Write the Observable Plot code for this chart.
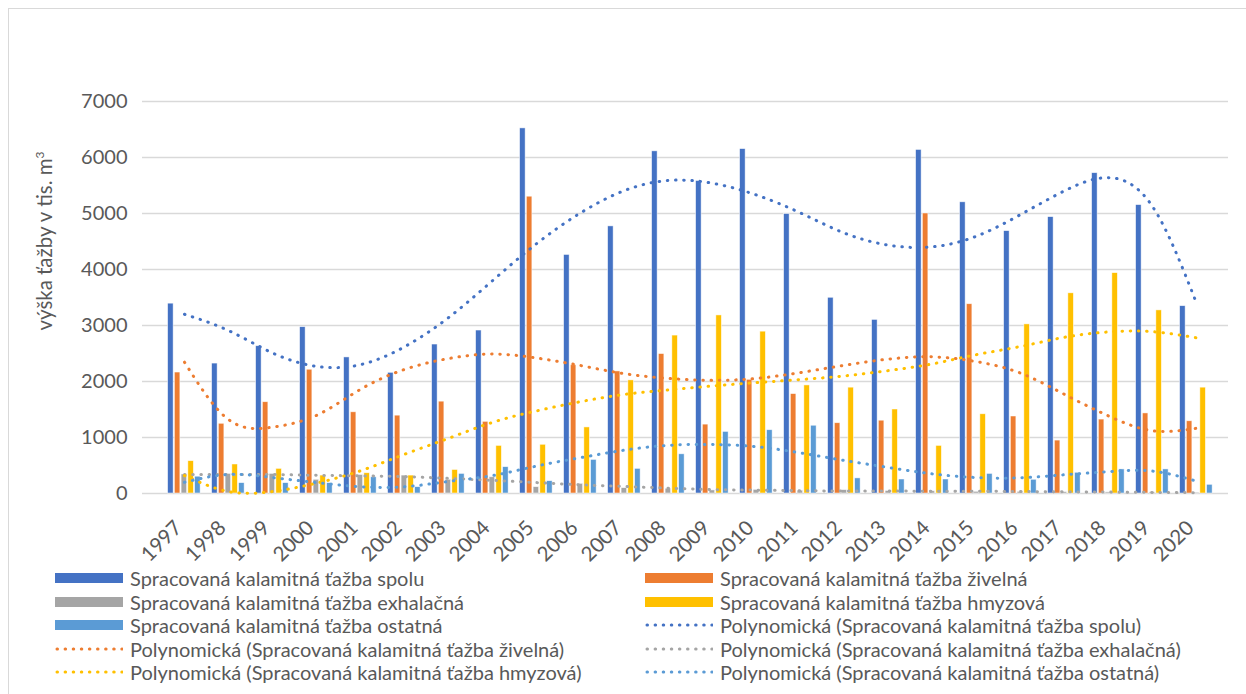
<!DOCTYPE html>
<html><head><meta charset="utf-8">
<script src="https://cdn.jsdelivr.net/npm/d3@7"></script>
<script src="https://cdn.jsdelivr.net/npm/@observablehq/plot@0.6"></script>
<style>
body{margin:0;background:#fff;}
#wrap{position:relative;width:1246px;height:694px;overflow:hidden;font-family:Lato,"Open Sans",sans-serif;color:#595959;}
#frame{position:absolute;left:8px;top:8px;right:-10px;bottom:-10px;border-left:1.5px solid #d9d9d9;border-top:1.5px solid #d9d9d9;}
#chart{position:absolute;left:0;top:0;}
#ylab{position:absolute;left:44px;top:241px;transform:translate(-50%,-50%) rotate(-90deg);white-space:nowrap;font-size:20.5px;}
#ylab sup{font-size:12px;}
.leg{position:absolute;display:flex;align-items:center;font-size:20px;white-space:nowrap;height:24px;}
.sw{width:68px;height:10px;margin-right:7px;}
</style></head><body><div id="wrap"><div id="frame"></div><div id="chart"></div><div id="ylab">výška ťažby v tis. m<sup>3</sup></div></div>
<script>
const years = ["1997","1998","1999","2000","2001","2002","2003","2004","2005","2006","2007","2008","2009","2010","2011","2012","2013","2014","2015","2016","2017","2018","2019","2020"];
const spolu     = [3390,2320,2630,2970,2430,2155,2660,2910,6520,4260,4770,6110,5580,6150,4990,3495,3100,6135,5200,4685,4935,5720,5150,3345];
const zivelna   = [2160,1245,1630,2210,1450,1390,1640,1280,5300,2290,2180,2490,1230,2030,1775,1255,1300,5000,3380,1375,945,1320,1430,1290];
const exhalacna = [340,350,350,245,330,320,245,290,113,173,95,85,55,65,50,60,45,40,30,30,25,20,20,15];
const hmyzova   = [577,518,440,320,362,320,420,850,870,1180,2020,2820,3180,2890,1930,1890,1500,850,1415,3020,3575,3935,3270,1890];
const ostatna   = [300,185,185,185,290,113,350,470,220,600,440,700,1100,1130,1210,270,250,250,350,245,370,430,430,155];

const trendSpolu     = [3200,2910,2510,2270,2300,2620,3140,3800,4460,5010,5410,5590,5540,5330,5010,4650,4435,4405,4595,4980,5405,5640,5125,3400];
const trendZivelna   = [2345,1320,1185,1395,1860,2215,2410,2490,2420,2285,2140,2055,2020,2055,2160,2290,2400,2440,2355,2150,1770,1385,1120,1165];
const trendExhalacna = [340,340,338,325,315,300,270,235,195,155,125,95,70,60,50,45,45,40,40,35,30,25,20,15];
const trendHmyzova   = [320,35,35,185,405,700,985,1270,1475,1640,1770,1850,1920,1980,2035,2100,2195,2315,2480,2625,2790,2885,2890,2780];
const trendOstatna   = [200,340,285,195,120,120,215,320,490,640,775,860,875,835,725,590,465,350,285,280,335,390,400,220];

const yTicks = [0,1000,2000,3000,4000,5000,6000,7000];

const seriesNames = ["Spracovaná kalamitná ťažba spolu","Spracovaná kalamitná ťažba živelná","Spracovaná kalamitná ťažba exhalačná","Spracovaná kalamitná ťažba hmyzová","Spracovaná kalamitná ťažba ostatná"];
const seriesKeys = ["spolu","zivelna","exhalacna","hmyzova","ostatna"];
const colors = ["#4472C4","#ED7D31","#A5A5A5","#FFC000","#5B9BD5"];
const values = [spolu,zivelna,exhalacna,hmyzova,ostatna];
const trends = [trendSpolu,trendZivelna,trendExhalacna,trendHmyzova,trendOstatna];

const data = years.map((year,i)=>{
  const row = {year};
  seriesKeys.forEach((k,j)=>{ row[k]=values[j][i]; row["t_"+k]=trends[j][i]; });
  return row;
});

const W = 1246, H = 575, mL = 151, mR = 18, mT = 101, mB = 82;
const bw = (W - mL - mR) / years.length;
const barStart = 5.6, barStep = 6.75, barW = 6.4;

const marks = [
  Plot.ruleY(yTicks, {stroke:"#d9d9d9", strokeWidth:1.3, insetLeft:-9})
];
seriesKeys.forEach((k,j)=>{
  const o = barStart + j*barStep;
  marks.push(Plot.barY(data, {x:"year", y:k, fill:colors[j], stroke:"#fff", strokeWidth:0.7, strokeOpacity:0.7,
    insetLeft:o, insetRight:bw - o - barW}));
});
[0,1,2,3,4].forEach(j=>{
  marks.push(Plot.line(data, {x:"year", y:"t_"+seriesKeys[j], stroke:colors[j], strokeWidth:3,
    strokeDasharray:"0.5 7.7", strokeLinecap:"round", curve:"natural"}));
});

const hasAxisMarks = typeof Plot.axisX === "function";
if (hasAxisMarks) {
  marks.push(Plot.axisX({tickSize:0, tickRotate:-45, tickPadding:22, dx:-6, dy:9, fontSize:20.5, label:null}));
}

const chart = Plot.plot({
  width:W, height:H, marginLeft:mL, marginRight:mR, marginTop:mT, marginBottom:mB,
  style:{fontFamily:"Lato, 'Open Sans', sans-serif", fontSize:"20px", color:"#595959", background:"transparent", overflow:"visible"},
  x:hasAxisMarks ? {type:"band", domain:years, padding:0, label:null}
                 : {type:"band", domain:years, padding:0, tickSize:0, tickRotate:-45, tickPadding:30, label:null},
  y:{domain:[0,7000], ticks:yTicks, tickSize:0, tickPadding:24, label:null, tickFormat:d=>String(d)},
  marks
});
document.getElementById("chart").appendChild(chart);

const legendItems = [
  {label:seriesNames[0], color:colors[0], kind:"bar"},
  {label:seriesNames[1], color:colors[1], kind:"bar"},
  {label:seriesNames[2], color:colors[2], kind:"bar"},
  {label:seriesNames[3], color:colors[3], kind:"bar"},
  {label:seriesNames[4], color:colors[4], kind:"bar"},
  {label:"Polynomická ("+seriesNames[0]+")", color:colors[0], kind:"line"},
  {label:"Polynomická ("+seriesNames[1]+")", color:colors[1], kind:"line"},
  {label:"Polynomická ("+seriesNames[2]+")", color:colors[2], kind:"line"},
  {label:"Polynomická ("+seriesNames[3]+")", color:colors[3], kind:"line"},
  {label:"Polynomická ("+seriesNames[4]+")", color:colors[4], kind:"line"}
];
const colX = [55, 645];
const rowY = [578, 602, 625, 649, 672];
const wrap = document.getElementById("wrap");
legendItems.forEach((it,i)=>{
  const d = document.createElement("div");
  d.className = "leg";
  d.style.left = colX[i%2] + "px";
  d.style.top = (rowY[Math.floor(i/2)] - 12) + "px";
  let sw;
  if (it.kind === "bar") {
    sw = `<div class="sw" style="background:${it.color}"></div>`;
  } else {
    sw = `<svg width="68" height="10" style="margin-right:7px"><line x1="2" y1="5" x2="67" y2="5" stroke="${it.color}" stroke-width="3" stroke-linecap="round" stroke-dasharray="0.5 7.6"/></svg>`;
  }
  d.innerHTML = sw + `<span>${it.label}</span>`;
  wrap.appendChild(d);
});
</script></body></html>
